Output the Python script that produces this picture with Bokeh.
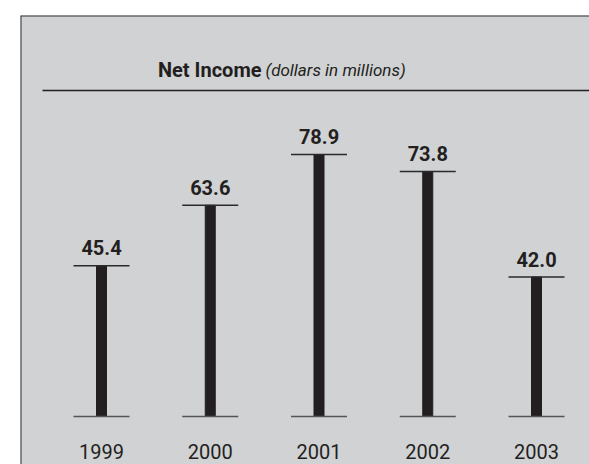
from bokeh.plotting import figure
from bokeh.models import Range1d, Span
from bokeh.core.properties import value
from bokeh.embed import file_html
from bokeh.resources import INLINE

years = ["1999", "2000", "2001", "2002", "2003"]
net_income = [45.4, 63.6, 78.9, 73.8, 42.0]
value_labels = ["45.4", "63.6", "78.9", "73.8", "42.0"]
title_bold = "Net Income"
title_italic = "(dollars in millions)"

FONT = "Roboto"
PX_X = 108.75   # pixels per category
PX_Y = 3.32     # pixels per million

x0, x1 = -81 / PX_X, 488 / PX_X
y0, y1 = -48 / PX_Y, 401 / PX_Y
p = figure(width=589, height=464, output_backend="svg", toolbar_location=None,
           x_range=Range1d(x0, x1), y_range=Range1d(y0, y1),
           min_border_left=20, min_border_top=15, min_border_right=0, min_border_bottom=0)
p.axis.visible = False
p.grid.visible = False
p.border_fill_color = "white"
p.background_fill_color = "#d1d2d4"
p.outline_line_color = None
p.add_layout(Span(location=x0, dimension="height", line_color="#333333", line_width=2))
p.add_layout(Span(location=y1, dimension="width", line_color="#333333", line_width=2))

xs = list(range(len(years)))

# bars
p.vbar(x=xs, top=net_income, bottom=0, width=10 / PX_X, color="#231f20")
# caps
half = 28 / PX_X
p.segment(x0=[x - half for x in xs], x1=[x + half for x in xs], y0=net_income, y1=net_income,
          line_color="#2a2a2a", line_width=1.5)
p.segment(x0=[x - half for x in xs], x1=[x + half for x in xs], y0=[0] * 5, y1=[0] * 5,
          line_color="#555555", line_width=1.5)

# value labels
p.text(x=xs, y=[v + 18 / PX_Y for v in net_income], text=value_labels,
       text_font=value(FONT), text_font_style="bold", text_font_size="20px",
       text_align="center", text_baseline="alphabetic", text_color="#231f20")
# year labels
p.text(x=xs, y=[-35 / PX_Y] * 5, text=years,
       text_font=value(FONT), text_font_size="20px",
       text_align="center", text_baseline="alphabetic", text_color="#231f20")

# title
title_y = 347 / PX_Y
p.text(x=[160 / PX_X], y=[title_y], text=[title_bold], text_font=value(FONT),
       text_font_style="bold", text_font_size="20px", text_align="right",
       text_baseline="alphabetic", text_color="#231f20")
p.text(x=[164 / PX_X], y=[title_y], text=[title_italic], text_font=value(FONT),
       text_font_style="italic", text_font_size="17px", text_align="left",
       text_baseline="alphabetic", text_color="#231f20")
rule_y = 326 / PX_Y
p.segment(x0=[-59 / PX_X], x1=[x1], y0=[rule_y], y1=[rule_y],
          line_color="#231f20", line_width=1.3)

open("out.html", "w").write(file_html(p, INLINE))
